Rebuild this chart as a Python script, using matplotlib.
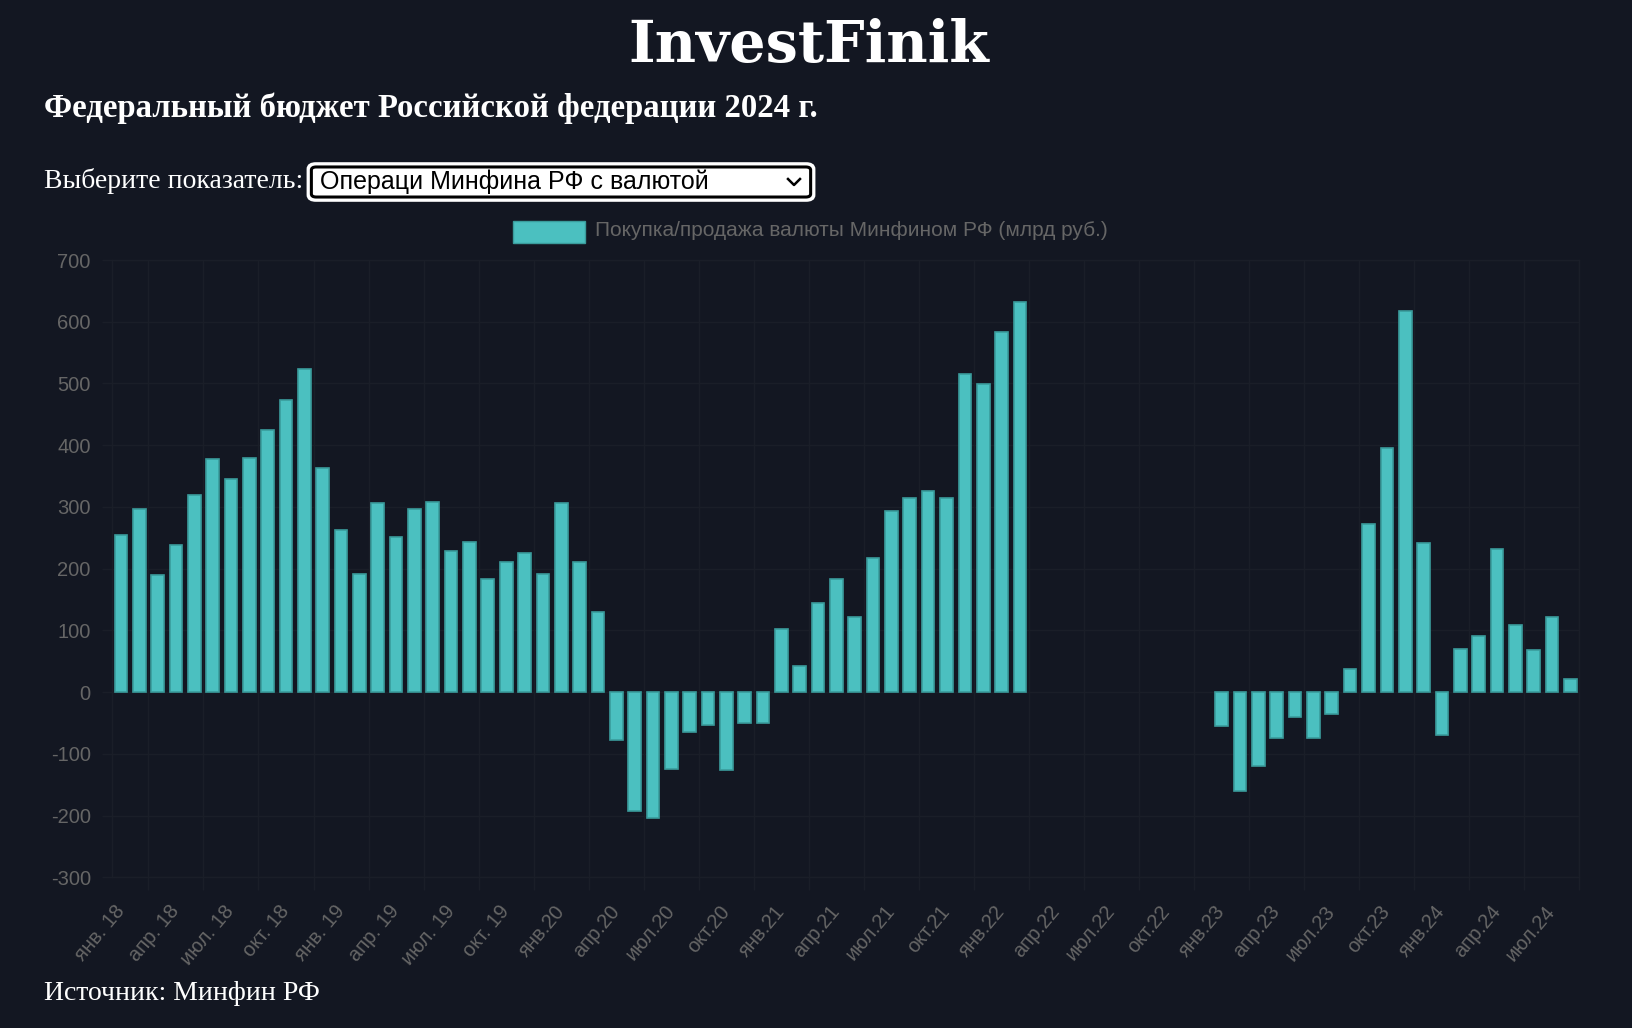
import numpy as np
import matplotlib
matplotlib.use('Agg')
import matplotlib.pyplot as plt
from matplotlib.patches import FancyBboxPatch, Rectangle
from matplotlib.lines import Line2D

plt.rcParams['axes.unicode_minus'] = False

# monthly values, янв.18 .. авг.24 (млрд руб.), nan = no data
vals_2018 = [254, 296, 190, 238, 320, 377, 345, 380, 424, 473, 524, 363]
vals_2019 = [263, 191, 306, 252, 297, 308, 228, 243, 184, 210, 225, 192]
vals_2020 = [306, 211, 130, -77, -193, -204, -125, -64, -54, -126, -50, -50]
vals_2021 = [103, 43, 145, 183, 121, 218, 294, 314, 325, 315, 516, 499]
vals_2022 = [583, 632] + [np.nan] * 10
vals_2023 = [-55, -161, -120, -75, -41, -75, -35, 38, 273, 396, 618, 242]
vals_2024 = [-70, 70, 91, 232, 108, 69, 121, 22]

tick_labels = ['янв. 18', 'апр. 18', 'июл. 18', 'окт. 18',
               'янв. 19', 'апр. 19', 'июл. 19', 'окт. 19',
               'янв.20', 'апр.20', 'июл.20', 'окт.20',
               'янв.21', 'апр.21', 'июл.21', 'окт.21',
               'янв.22', 'апр.22', 'июл.22', 'окт.22',
               'янв.23', 'апр.23', 'июл.23', 'окт.23',
               'янв.24', 'апр.24', 'июл.24']

values = np.array(vals_2018 + vals_2019 + vals_2020 + vals_2021 + vals_2022 + vals_2023 + vals_2024, dtype=float)

BG = '#131722'
GRID = '#1a1e28'
TEAL = '#4bc0c0'
EDGE = '#3a9c9c'
LABEL = '#666666'

W, H = 1633, 1028
fig = plt.figure(figsize=(W / 100, H / 100), dpi=100, facecolor=BG)


def fx(px):
    return px / W


def fy(py):
    return 1 - py / H


ax = fig.add_axes([fx(111.7), fy(877.3), fx(1579.5) - fx(111.7), fy(260) - fy(877.3)])
ax.set_facecolor(BG)

x = np.arange(len(values))
ax.bar(x, values, width=0.69, color=TEAL, edgecolor=EDGE, linewidth=1.2, zorder=3)

ax.set_xlim(-0.5, len(values) - 0.5)
ax.set_ylim(-300, 700)
ax.set_yticks(np.arange(-300, 701, 100))
ax.tick_params(axis='y', colors=GRID, labelcolor=LABEL, labelsize=14.5, length=7, width=1, pad=8)
for lbl in ax.get_yticklabels():
    lbl.set_family('Liberation Sans')

ax.set_xticks(np.arange(0, len(values), 3))
ax.set_xticklabels(tick_labels, rotation=50, ha='right', va='center',
                   rotation_mode='anchor', fontsize=14.5, color=LABEL, family='Liberation Sans')
ax.set_xticks(np.arange(1.5, len(values), 3), minor=True)
ax.tick_params(axis='x', which='major', length=0, pad=22)
ax.tick_params(axis='x', which='minor', length=9.5, width=1, color=GRID)

ax.grid(axis='y', color=GRID, linewidth=1, zorder=0)
ax.grid(axis='x', which='minor', color=GRID, linewidth=1, zorder=0)
for s in ax.spines.values():
    s.set_color(GRID)
    s.set_linewidth(1)

# header texts
fig.text(fx(809), fy(46), 'InvestFinik', ha='center', va='center', color='white',
         fontsize=41, fontweight='bold', family='DejaVu Serif')
fig.text(fx(44), fy(108), 'Федеральный бюджет Российской федерации 2024 г.', ha='left', va='center',
         color='white', fontsize=23.6, fontweight='bold', family='Liberation Serif')
fig.text(fx(44), fy(181), 'Выберите показатель:', ha='left', va='center', color='white',
         fontsize=20, family='Liberation Serif')
fig.text(fx(44), fy(993), 'Источник: Минфин РФ', ha='left', va='center', color='white',
         fontsize=20, family='Liberation Serif')

# select box
outer = FancyBboxPatch((fx(311), fy(198)), fx(811) - fx(311), fy(166) - fy(198),
                       boxstyle='round,pad=0.001,rounding_size=0.004',
                       transform=fig.transFigure, facecolor='white', edgecolor='white', linewidth=4)
inner = FancyBboxPatch((fx(313), fy(196)), fx(809) - fx(313), fy(168) - fy(196),
                       boxstyle='round,pad=0.001,rounding_size=0.003',
                       transform=fig.transFigure, facecolor='white', edgecolor='black', linewidth=2.2)
fig.patches.extend([outer, inner])
fig.text(fx(320), fy(182), 'Операци Минфина РФ с валютой', ha='left', va='center', color='black',
         fontsize=18, family='Liberation Sans')
fig.lines.append(Line2D([fx(788), fx(794), fx(800)], [fy(179), fy(185), fy(179)],
                        transform=fig.transFigure, color='black', linewidth=1.8))

# legend
fig.patches.append(Rectangle((fx(513), fy(243)), fx(585) - fx(513), fy(221) - fy(243),
                             transform=fig.transFigure, facecolor=TEAL, edgecolor=EDGE, linewidth=1))
fig.text(fx(595), fy(231), 'Покупка/продажа валюты Минфином РФ (млрд руб.)', ha='left', va='center',
         color=LABEL, fontsize=15, family='Liberation Sans')

fig.savefig('out.png', dpi=100, facecolor=BG)
